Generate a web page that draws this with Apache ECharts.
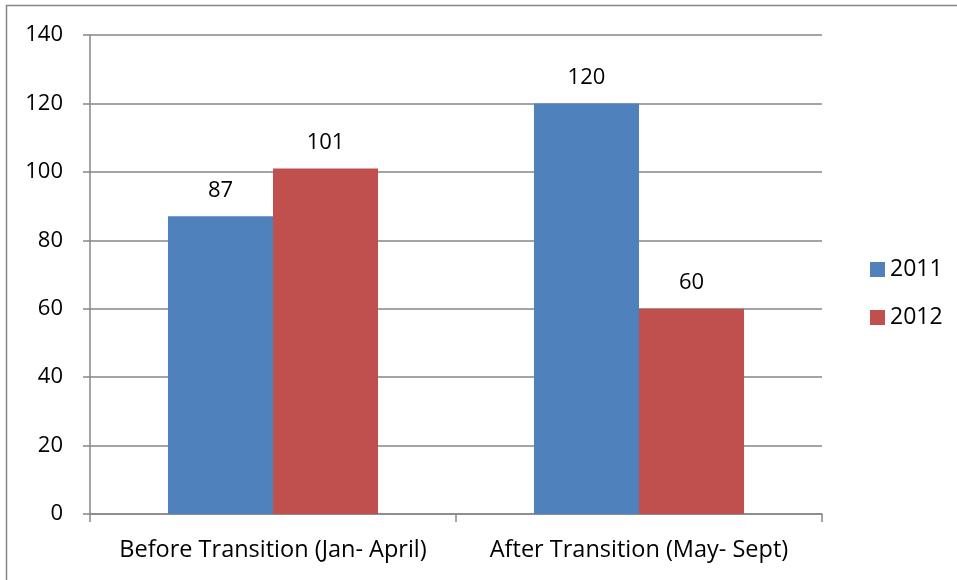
<!DOCTYPE html>
<html>
<head>
<meta charset="utf-8">
<script src="https://cdn.jsdelivr.net/npm/echarts@6/dist/echarts.min.js"></script>
<style>
  html, body { margin: 0; padding: 0; background: #fff; }
  #chart { width: 957px; height: 580px; }
</style>
</head>
<body>
<div id="chart"></div>
<script>
const categories = ["Before Transition (Jan- April)", "After Transition (May- Sept)"];
const values2011 = [87, 120];
const values2012 = [101, 60];
const yTicks = [0, 20, 40, 60, 80, 100, 120, 140];

let chart = echarts.init(document.getElementById("chart"));
const font = "Open Sans";
let option = {
  animation: false,
  color: ["#4f81bd", "#c0504d"],
  textStyle: { fontFamily: font },
  // outer frame of the chart area
  graphic: [{
    type: "rect",
    shape: { x: 6.5, y: 5.5, width: 1000, height: 1000 },
    style: { fill: "none", stroke: "#868686", lineWidth: 1.5 },
    silent: true,
  }],
  legend: {
    orient: "vertical",
    left: 865,
    top: 253,
    itemWidth: 15,
    itemHeight: 15,
    itemGap: 25,
    icon: "rect",
    textStyle: { fontSize: 23, color: "#000", fontFamily: font },
  },
  grid: { left: 90, right: 135, top: 35, bottom: 66 },
  xAxis: {
    type: "category",
    data: categories,
    axisLine: { lineStyle: { color: "#868686", width: 1.5 } },
    axisTick: { show: true, length: 8, lineStyle: { color: "#868686", width: 1.5 } },
    axisLabel: { color: "#000", fontSize: 23.5, margin: 24, interval: 0, fontFamily: font },
  },
  yAxis: {
    type: "value",
    min: yTicks[0],
    max: yTicks[yTicks.length - 1],
    interval: 20,
    axisLine: { show: true, lineStyle: { color: "#868686", width: 1.5 } },
    axisTick: { show: true, length: 7, lineStyle: { color: "#868686", width: 1.5 } },
    axisLabel: { color: "#000", fontSize: 22, margin: 27, fontFamily: font },
    splitLine: { lineStyle: { color: "#868686", width: 1.5 } },
  },
  series: [
    {
      name: "2011",
      type: "bar",
      data: values2011,
      barGap: "0%",
      barCategoryGap: "42.6%",
      label: { show: true, position: "top", distance: 15, color: "#000", fontSize: 22, fontFamily: font },
    },
    {
      name: "2012",
      type: "bar",
      data: values2012,
      label: { show: true, position: "top", distance: 15, color: "#000", fontSize: 22, fontFamily: font },
    },
  ],
};
chart.setOption(option);
</script>
</body>
</html>
